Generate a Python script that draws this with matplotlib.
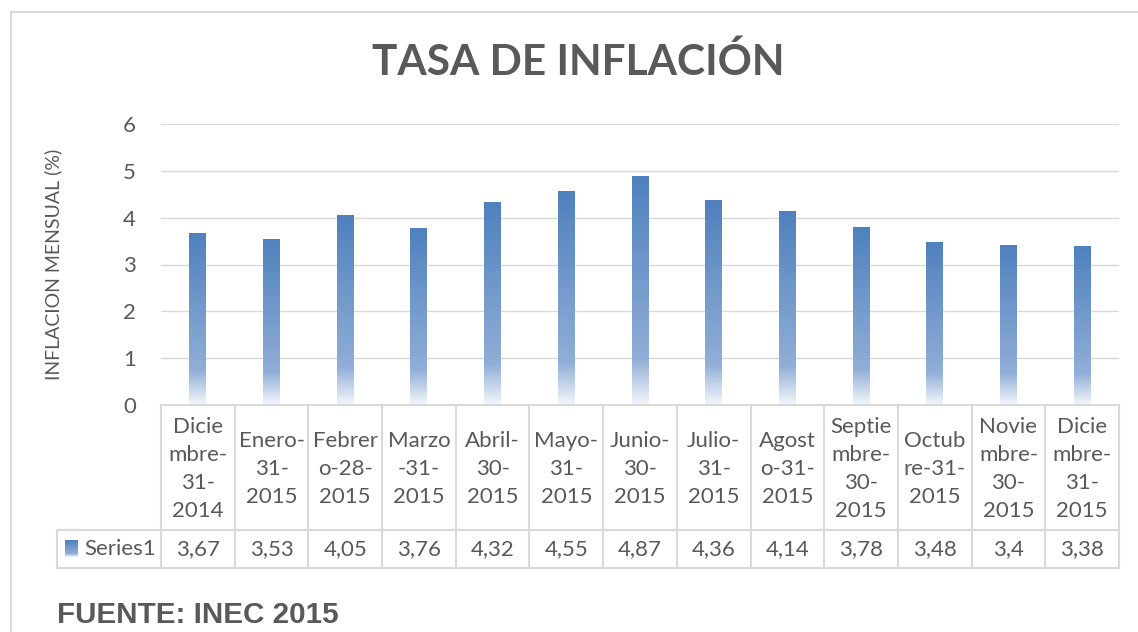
import numpy as np
import matplotlib.pyplot as plt
from matplotlib.colors import LinearSegmentedColormap
from matplotlib.lines import Line2D

# Datos del gráfico
categorias = ["Dicie\nmbre-\n31-\n2014", "Enero-\n31-\n2015", "Febrer\no-28-\n2015",
              "Marzo\n-31-\n2015", "Abril-\n30-\n2015", "Mayo-\n31-\n2015",
              "Junio-\n30-\n2015", "Julio-\n31-\n2015", "Agost\no-31-\n2015",
              "Septie\nmbre-\n30-\n2015", "Octub\nre-31-\n2015", "Novie\nmbre-\n30-\n2015",
              "Dicie\nmbre-\n31-\n2015"]
inflacion = [3.67, 3.53, 4.05, 3.76, 4.32, 4.55, 4.87, 4.36, 4.14, 3.78, 3.48, 3.40, 3.38]
etiquetas_valor = ["3,67", "3,53", "4,05", "3,76", "4,32", "4,55", "4,87",
                   "4,36", "4,14", "3,78", "3,48", "3,4", "3,38"]
serie = "Series1"
y_ticks = [0, 1, 2, 3, 4, 5, 6]

GRIS = "#595959"
LINEA = "#D9D9D9"
FUENTE = "Lato"
TAM = 16

W, H = 1138, 632
fig = plt.figure(figsize=(W / 100, H / 100), dpi=100)
fig.patch.set_facecolor("white")

# marco del gráfico (se sale por la derecha y por abajo)
fig.add_artist(Line2D([11 / W, 11 / W], [0, 1 - 12 / H], color=LINEA, lw=1.5))
fig.add_artist(Line2D([11 / W, 1], [1 - 12 / H, 1 - 12 / H], color=LINEA, lw=1.5))

# área de trazado
x0, x1, ytop, ybot = 161, 1119, 124, 405
ax = fig.add_axes([x0 / W, 1 - ybot / H, (x1 - x0) / W, (ybot - ytop) / H])
n = len(inflacion)
ax.set_yticks(y_ticks)
ax.set_xticks([])
ax.grid(axis="y", color=LINEA, lw=1)
ax.set_axisbelow(True)
for s in ax.spines.values():
    s.set_visible(False)
ax.tick_params(axis="y", length=0, pad=18, labelsize=TAM, labelcolor=GRIS)
for t in ax.get_yticklabels():
    t.set_fontfamily(FUENTE)
ax.set_ylabel("INFLACION MENSUAL (%)", fontsize=14, color=GRIS, family=FUENTE)
ax.yaxis.set_label_coords(-0.103, 0.5)

# barras con degradado
cmap = LinearSegmentedColormap.from_list(
    "grad", [(0, "#F4F7FB"), (0.2, "#90AED7"), (1, "#4F81BD")])
grad = np.linspace(1, 0, 256).reshape(-1, 1)
ancho = 0.23
for i, v in enumerate(inflacion):
    ax.imshow(grad, cmap=cmap, vmin=0, vmax=1, aspect="auto",
              extent=(i - ancho / 2, i + ancho / 2, 0, v), zorder=2)
ax.set_xlim(-0.5, n - 0.5)
ax.set_ylim(0, 6)

# tabla de datos
legw = 104 / ((x1 - x0) / n)
tb_top, tb_bot = 405, 568
tax = fig.add_axes([57 / W, 1 - tb_bot / H, (x1 - 57) / W, (tb_bot - tb_top) / H])
tax.axis("off")
fila = (530 - tb_top) / (tb_bot - tb_top)

for i in range(n + 1):
    tax.plot([i - 0.5, i - 0.5], [0, 1], color=LINEA, lw=1.5, clip_on=False)
tax.plot([-0.5 - legw, -0.5 - legw], [fila, 1], color=LINEA, lw=1.5, clip_on=False)
tax.plot([-0.5, n - 0.5], [0, 0], color=LINEA, lw=1.5, clip_on=False)
tax.plot([-0.5 - legw, n - 0.5], [fila, fila], color=LINEA, lw=1.5, clip_on=False)
tax.plot([-0.5 - legw, n - 0.5], [1, 1], color=LINEA, lw=1.5, clip_on=False)

for i, (c, v) in enumerate(zip(categorias, etiquetas_valor)):
    tax.text(i, fila / 2 + 0.01, c, ha="center", va="center", fontsize=TAM, color=GRIS,
             family=FUENTE, linespacing=1.5)
    tax.text(i, (fila + 1) / 2, v, ha="center", va="center", fontsize=TAM,
             color=GRIS, family=FUENTE)

# clave de la leyenda
kx = -0.5 - legw + 8 / 73.7
tax.imshow(grad, cmap=cmap, vmin=0, vmax=1, aspect="auto",
           extent=(kx, kx + 13 / 73.7, fila + 0.55 * (1 - fila) + 0.04, fila + 0.45 * (1 - fila) - 0.04),
           zorder=2)
tax.set_xlim(-0.5 - legw, n - 0.5)
tax.set_ylim(1, 0)
tax.text(kx + 19 / 73.7, (fila + 1) / 2, serie, ha="left", va="center", fontsize=TAM,
         color=GRIS, family=FUENTE)

# títulos
fig.text(578 / W, 1 - 62 / H, "TASA DE INFLACIÓN", ha="center", va="center",
         fontsize=30.5, fontweight="bold", color=GRIS, family=FUENTE)
fig.text(57 / W, 1 - 615 / H, "FUENTE: INEC 2015", ha="left", va="center",
         fontsize=21.3, fontweight="bold", color=GRIS, family="Liberation Sans")

fig.savefig("out.png", dpi=100)
